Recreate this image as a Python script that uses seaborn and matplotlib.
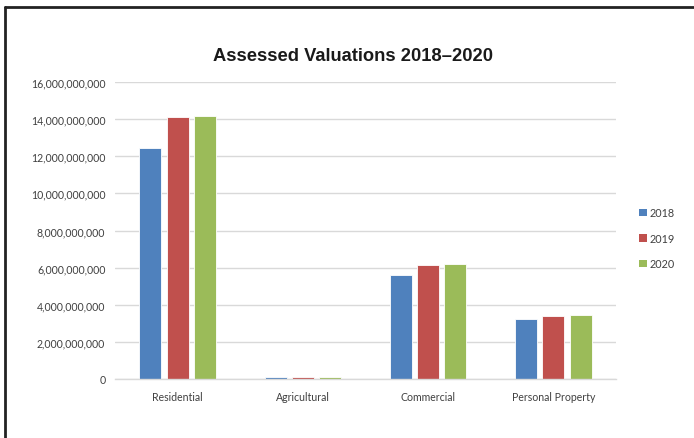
import numpy as np
import pandas as pd
import seaborn as sns
import matplotlib
matplotlib.use("Agg")
import matplotlib.pyplot as plt
from matplotlib.lines import Line2D
from matplotlib.patches import Patch
from matplotlib.ticker import FuncFormatter, MultipleLocator

categories = ["Residential", "Agricultural", "Commercial", "Personal Property"]
years = ["2018", "2019", "2020"]
values_2018 = [12.45e9, 0.09e9, 5.60e9, 3.23e9]
values_2019 = [14.12e9, 0.09e9, 6.15e9, 3.40e9]
values_2020 = [14.18e9, 0.09e9, 6.20e9, 3.45e9]
colors = ["#4F81BD", "#C0504D", "#9BBB59"]

rows = []
for yr, vals in zip(years, [values_2018, values_2019, values_2020]):
    for c, v in zip(categories, vals):
        rows.append({"Category": c, "Year": yr, "Value": v})
df = pd.DataFrame(rows)

sns.set_theme(style="white")
plt.rcParams["font.family"] = ["Lato", "DejaVu Sans"]

fig = plt.figure(figsize=(6.94, 4.39), dpi=100)
ax = fig.add_axes([0.1657, 0.1344, 0.722, 0.6765])

sns.barplot(data=df, x="Category", y="Value", hue="Year", order=categories,
            hue_order=years, palette=colors, saturation=1, width=0.65, gap=0.19,
            edgecolor="white", linewidth=0.6, ax=ax, legend=False)

ax.set_ylim(0, 16e9)
ax.set_xlim(-0.5, 3.5)
ax.yaxis.set_major_locator(MultipleLocator(2e9))
ax.yaxis.set_major_formatter(FuncFormatter(lambda v, p: f"{int(round(v)):,}"))
ax.grid(axis="y", color="#D9D9D9", linewidth=1.0)
ax.set_axisbelow(True)
for s in ["top", "right", "left"]:
    ax.spines[s].set_visible(False)
ax.spines["bottom"].set_color("#D9D9D9")
ax.spines["bottom"].set_linewidth(1.0)
ax.set_xlabel("")
ax.set_ylabel("")
ax.tick_params(axis="y", labelsize=7.6, colors="#404040", length=0, pad=7)
ax.tick_params(axis="x", labelsize=7.6, colors="#404040", length=0, pad=8.5)

fig.text(0.509, 0.872, "Assessed Valuations 2018\u20132020", ha="center", va="center",
         fontsize=13.2, fontweight="bold", family=["Liberation Sans", "DejaVu Sans"],
         color="#1a1a1a")

handles = [Patch(facecolor=c, edgecolor="none") for c in colors]
fig.legend(handles, years, loc="center left", bbox_to_anchor=(0.907, 0.455),
           frameon=False, fontsize=7.8, handlelength=0.7, handleheight=0.7,
           handletextpad=0.3, labelspacing=1.35, labelcolor="#404040")

fig.add_artist(Line2D([0.0072, 1.0], [0.9818, 0.9818], color="#222222", linewidth=2.0))
fig.add_artist(Line2D([0.0072, 0.0072], [0.0, 0.9818], color="#222222", linewidth=2.0))

fig.savefig("out.png", dpi=100)
